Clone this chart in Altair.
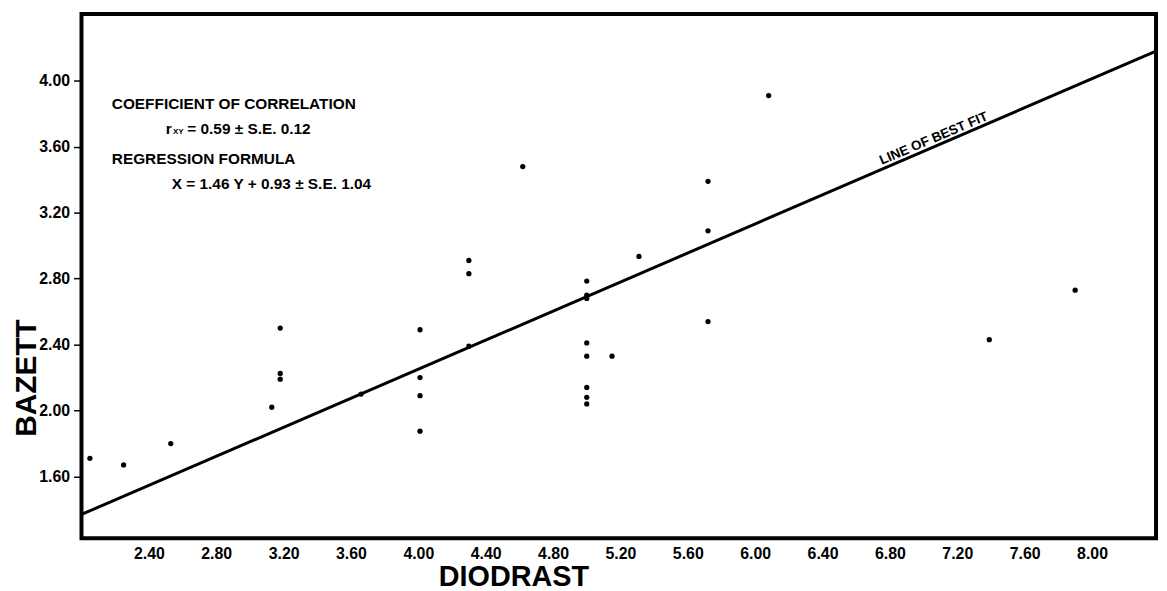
import altair as alt
import pandas as pd

# Scatter data
diodrast = [2.05, 2.25, 2.53, 3.13, 3.18, 3.18, 3.18, 3.66,
            4.01, 4.01, 4.01, 4.01,
            4.30, 4.30, 4.30,
            4.62,
            5.00, 5.00, 5.00, 5.00, 5.00, 5.00, 5.00, 5.00,
            5.15, 5.31,
            5.72, 5.72, 5.72,
            6.08, 7.39, 7.90]
bazett = [1.71, 1.67, 1.80, 2.02, 2.50, 2.225, 2.19, 2.10,
          2.49, 2.20, 2.09, 1.875,
          2.91, 2.83, 2.39,
          3.48,
          2.785, 2.70, 2.68, 2.41, 2.33, 2.14, 2.08, 2.04,
          2.33, 2.935,
          3.39, 3.09, 2.54,
          3.91, 2.43, 2.73]

# Line of best fit (as drawn)
fit_x = [2.0, 8.38]
fit_y = [1.37, 4.18]

x_ticks = [2.4, 2.8, 3.2, 3.6, 4.0, 4.4, 4.8, 5.2, 5.6, 6.0, 6.4, 6.8, 7.2, 7.6, 8.0]
y_ticks = [1.6, 2.0, 2.4, 2.8, 3.2, 3.6, 4.0]
x_domain = [2.0, 8.38]
y_domain = [1.225, 4.405]

# Annotation texts
note_text = ["COEFFICIENT OF CORRELATION", "r", "= 0.59 \u00b1 S.E. 0.12",
             "REGRESSION FORMULA", "X = 1.46 Y + 0.93 \u00b1 S.E. 1.04"]
note_x = [2.18, 2.50, 2.628, 2.18, 2.536]
note_y = [3.857, 3.706, 3.706, 3.525, 3.375]
sub_text = ["XY"]
sub_x = [2.543]
sub_y = [3.688]
fit_label = ["LINE OF BEST FIT"]
fit_label_x = [7.06]
fit_label_y = [3.65]

FONT = "Liberation Sans"

pts = pd.DataFrame({"x": diodrast, "y": bazett})
fit = pd.DataFrame({"x": fit_x, "y": fit_y})
notes = pd.DataFrame({"t": note_text, "x": note_x, "y": note_y})
subs = pd.DataFrame({"t": sub_text, "x": sub_x, "y": sub_y})
flab = pd.DataFrame({"t": fit_label, "x": fit_label_x, "y": fit_label_y})

xs = alt.Scale(domain=x_domain, nice=False, zero=False)
ys = alt.Scale(domain=y_domain, nice=False, zero=False)

x_axis = alt.Axis(values=x_ticks, format=".2f", ticks=False, grid=False, domain=False,
                  labelFont=FONT, labelFontWeight="bold", labelFontSize=16, labelColor="black",
                  labelPadding=7, title="DIODRAST", titleFont=FONT, titleFontSize=29,
                  titleFontWeight="bold", titleColor="black", titleX=435, titleY=47,
                  titleAlign="center", titleBaseline="alphabetic", labelFlush=False)
y_axis = alt.Axis(values=y_ticks, format=".2f", ticks=True, tickSize=8, tickColor="black",
                  tickWidth=1.5, grid=False, domain=False,
                  labelFont=FONT, labelFontWeight="bold", labelFontSize=16, labelColor="black",
                  labelPadding=4, title="BAZETT", titleFont=FONT, titleFontSize=30,
                  titleFontWeight="bold", titleColor="black", titleX=-55, titleY=366,
                  titleAlign="center", titleBaseline="middle", titleAngle=270, labelFlush=False)

points = alt.Chart(pts).mark_circle(size=28, color="black", opacity=1).encode(
    x=alt.X("x:Q", scale=xs, axis=x_axis),
    y=alt.Y("y:Q", scale=ys, axis=y_axis),
)

line = alt.Chart(fit).mark_line(color="black", strokeWidth=3).encode(
    x=alt.X("x:Q", scale=xs), y=alt.Y("y:Q", scale=ys))

note_marks = alt.Chart(notes).mark_text(
    align="left", baseline="middle", font=FONT, fontSize=15.5, fontWeight="bold", color="black"
).encode(x=alt.X("x:Q", scale=xs), y=alt.Y("y:Q", scale=ys), text="t:N")

sub_marks = alt.Chart(subs).mark_text(
    align="left", baseline="middle", font=FONT, fontSize=8, fontWeight="bold", color="black"
).encode(x=alt.X("x:Q", scale=xs), y=alt.Y("y:Q", scale=ys), text="t:N")

fit_text = alt.Chart(flab).mark_text(
    align="center", baseline="middle", font=FONT, fontSize=13.5, fontWeight="bold",
    color="black", angle=337
).encode(x=alt.X("x:Q", scale=xs), y=alt.Y("y:Q", scale=ys), text="t:N")

chart = alt.layer(line, points, note_marks, sub_marks, fit_text).properties(
    width=1082, height=528,
    autosize=alt.AutoSizeParams(type="none"),
    padding={"left": 74, "top": 4, "right": 3, "bottom": 51},
).configure(background="white").configure_view(stroke="black", strokeWidth=4)

chart.save("out.html", embed_options={"renderer": "svg", "actions": False})
